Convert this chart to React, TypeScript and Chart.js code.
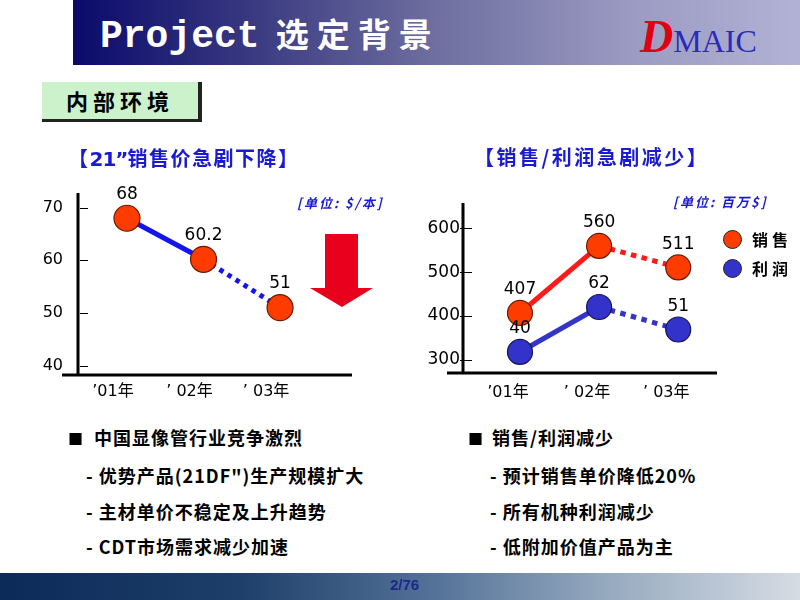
import React, { useEffect, useRef } from "react";
import { Chart, registerables } from "chart.js";
Chart.register(...registerables);

// ---------- data ----------
const years = ["’01年", "’ 02年", "’ 03年"];
const priceValues = [68, 60.2, 51];
const priceTicks = [40, 50, 60, 70];
const salesValues = [407, 560, 511];
const profitValues = [40, 62, 51];
const salesTicks = [300, 400, 500, 600];
const seriesNames = ["销售", "利润"];
const seriesColors = ["#ff3c00", "#3333cc"];

const NUM_FONT = "'DejaVu Sans', 'Noto Sans CJK SC', sans-serif";
const CJK_FONT = "'Noto Sans CJK SC', 'DejaVu Sans', sans-serif";

// ---------- plugins ----------
const slideAxes = {
  id: "slideAxes",
  beforeDatasetsDraw(chart: any, _a: any, opts: any) {
    const { ctx, chartArea } = chart;
    const ys = chart.scales.y;
    ctx.save();
    ctx.strokeStyle = "#000";
    ctx.lineWidth = 3;
    ctx.beginPath();
    ctx.moveTo(chartArea.left, chartArea.top);
    ctx.lineTo(chartArea.left, chartArea.bottom);
    ctx.moveTo(chartArea.left - opts.ext, chartArea.bottom);
    ctx.lineTo(chartArea.right, chartArea.bottom);
    ctx.stroke();
    ctx.lineWidth = 1.2;
    ctx.beginPath();
    ys.ticks.forEach((t: any) => {
      const y = Math.round(ys.getPixelForValue(t.value)) + 0.5;
      ctx.moveTo(chartArea.left + opts.tickFrom, y);
      ctx.lineTo(chartArea.left + opts.tickTo, y);
    });
    ctx.stroke();
    ctx.restore();
  },
};

const valueLabels = {
  id: "valueLabels",
  afterDatasetsDraw(chart: any, _a: any, opts: any) {
    const { ctx } = chart;
    ctx.save();
    ctx.font = `17px ${NUM_FONT}`;
    ctx.fillStyle = "#000";
    ctx.textAlign = "center";
    ctx.textBaseline = "middle";
    chart.data.datasets.forEach((ds: any, di: number) => {
      const meta = chart.getDatasetMeta(di);
      meta.data.forEach((el: any, i: number) => {
        ctx.fillText(String(ds.data[i].y), el.x, el.y - opts.offset);
      });
    });
    ctx.restore();
  },
};

const dotted = (dash: number[]) => ({
  borderDash: (c: any) => (c.p0DataIndex >= 1 ? dash : undefined),
});

function xScale(min: number, max: number, pad: number, labelOffset: number, h: number) {
  return {
    type: "linear",
    min,
    max,
    afterBuildTicks: (s: any) => {
      s.ticks = years.map((_, i) => ({ value: i }));
    },
    afterFit: (s: any) => {
      s.height = h;
    },
    grid: { display: false, drawTicks: false },
    border: { display: false },
    ticks: {
      callback: (v: any) => years[v],
      font: { size: 16, family: NUM_FONT },
      color: "#000",
      padding: pad,
      labelOffset,
      maxRotation: 0,
      autoSkip: false,
    },
  };
}

function yScale(min: number, max: number, tickList: number[], pad: number, size: number) {
  return {
    type: "linear",
    min,
    max,
    afterBuildTicks: (s: any) => {
      s.ticks = tickList.map((v) => ({ value: v }));
    },
    afterFit: (s: any) => {
      s.width = 40;
    },
    grid: { display: false, drawTicks: false },
    border: { display: false },
    ticks: { font: { size, family: NUM_FONT }, color: "#000", padding: pad },
  };
}

function ChartCanvas({ config, style }: { config: () => any; style: React.CSSProperties }) {
  const ref = useRef<HTMLCanvasElement | null>(null);
  useEffect(() => {
    if (!ref.current) return;
    const chart = new Chart(ref.current, config());
    return () => chart.destroy();
  }, []);
  return <canvas ref={ref} width={400} height={260} style={{ position: "absolute", width: 400, height: 260, ...style }} />;
}

const priceConfig = () => ({
  type: "line",
  data: {
    datasets: [
      {
        label: "售价",
        data: priceValues.map((v, i) => ({ x: i, y: v })),
        borderColor: "#1414ee",
        borderWidth: 5,
        pointRadius: 13,
        pointHoverRadius: 13,
        pointBackgroundColor: "#ff3c00",
        pointBorderColor: "#6a1a00",
        pointBorderWidth: 1.2,
        segment: dotted([4.5, 5]),
        clip: false,
      },
    ],
  },
  options: {
    animation: false,
    responsive: false,
    maintainAspectRatio: false,
    layout: { padding: { left: 38, right: 48, top: 43, bottom: 0 } },
    scales: {
      x: xScale(-0.64, 2.94, 7, -14, 35),
      y: yScale(38.2, 72.8, priceTicks, 15, 16),
    },
    plugins: {
      legend: { display: false },
      tooltip: { enabled: false },
      slideAxes: { ext: 16, tickFrom: 2, tickTo: 10 },
      valueLabels: { offset: 24 },
    },
  },
  plugins: [slideAxes, valueLabels],
});

const salesConfig = () => ({
  type: "line",
  data: {
    datasets: [
      {
        label: seriesNames[0],
        data: salesValues.map((v, i) => ({ x: i, y: v })),
        borderColor: "#ff1a1a",
        borderWidth: 5,
        pointRadius: 12.5,
        pointHoverRadius: 12.5,
        pointBackgroundColor: seriesColors[0],
        pointBorderColor: "#6a1a00",
        pointBorderWidth: 1.2,
        segment: dotted([5.5, 5.5]),
        yAxisID: "y",
        clip: false,
      },
      {
        label: seriesNames[1],
        data: profitValues.map((v, i) => ({ x: i, y: v })),
        borderColor: "#3434c8",
        borderWidth: 5,
        pointRadius: 12.5,
        pointHoverRadius: 12.5,
        pointBackgroundColor: seriesColors[1],
        pointBorderColor: "#141450",
        pointBorderWidth: 1.2,
        segment: dotted([5.5, 5.5]),
        yAxisID: "y2",
        clip: false,
      },
    ],
  },
  options: {
    animation: false,
    responsive: false,
    maintainAspectRatio: false,
    layout: { padding: { left: 23, right: 83, top: 53, bottom: 0 } },
    scales: {
      x: xScale(-0.72, 2.49, 10, -12, 37),
      y: yScale(270, 658, salesTicks, 3, 17),
      y2: { type: "linear", display: false, min: 29.7, max: 112.9 },
    },
    plugins: {
      legend: { display: false },
      tooltip: { enabled: false },
      slideAxes: { ext: 16, tickFrom: -3, tickTo: 9 },
      valueLabels: { offset: 23 },
    },
  },
  plugins: [slideAxes, valueLabels],
});

const abs = (s: React.CSSProperties): React.CSSProperties => ({ position: "absolute", whiteSpace: "nowrap", ...s });

const bulletStyle = (left: number, cy: number): React.CSSProperties =>
  abs({ left, top: cy - 13, height: 26, lineHeight: "26px", fontSize: 18, fontWeight: 700, letterSpacing: 1, color: "#000" });

export default function App() {
  return (
    <div style={{ position: "fixed", left: 0, top: 0, width: 800, height: 600, background: "#fff", overflow: "hidden", fontFamily: CJK_FONT }}>
      {/* header */}
      <div style={abs({ left: 73, top: 0, width: 727, height: 65, background: "linear-gradient(90deg, #0a0a6c 0%, #34347e 22%, #6f6fa0 50%, #9c9cc4 78%, #b2b2d6 100%)" })} />
      <div style={abs({ left: 100, top: 8, height: 50, lineHeight: "50px", color: "#fff" })}>
        <span style={{ fontFamily: "'Liberation Mono', monospace", fontWeight: 700, fontSize: 38 }}>Project</span>
        <span style={{ fontFamily: CJK_FONT, fontWeight: 700, fontSize: 33, letterSpacing: 8, marginLeft: 16 }}>选定背景</span>
      </div>
      <div style={abs({ left: 640, top: 12, height: 50, lineHeight: "50px", fontFamily: "'Liberation Serif', serif" })}>
        <span style={{ color: "#e00010", fontStyle: "italic", fontWeight: 700, fontSize: 46 }}>D</span>
        <span style={{ color: "#2b2bb8", fontSize: 32 }}>MAIC</span>
      </div>

      {/* section box */}
      <div style={abs({ left: 42, top: 82, width: 156, height: 37, background: "#ccf2cc", borderRight: "4px solid #222", borderBottom: "3px solid #222", boxSizing: "content-box" })} />
      <div style={abs({ left: 42, top: 82, width: 156, height: 37, lineHeight: "37px", textAlign: "center", fontSize: 22, fontWeight: 700, letterSpacing: 5, color: "#000" })}>内部环境</div>

      {/* charts */}
      <ChartCanvas config={priceConfig} style={{ left: 0, top: 150 }} />
      <ChartCanvas config={salesConfig} style={{ left: 400, top: 150 }} />

      {/* chart titles */}
      <div style={abs({ left: 68, top: 145, height: 26, lineHeight: "26px", fontSize: 20, fontWeight: 700, letterSpacing: 1.5, color: "#1a1ad2" })}>
        【<span style={{ fontFamily: NUM_FONT, letterSpacing: -1 }}>21”</span>销售价急剧下降】
      </div>
      <div style={abs({ left: 474, top: 144, height: 26, lineHeight: "26px", fontSize: 20, fontWeight: 700, letterSpacing: 2.5, color: "#1a1ad2" })}>
        【销售/利润急剧减少】
      </div>
      <div style={abs({ left: 297, top: 194, height: 18, lineHeight: "18px", fontSize: 13, fontWeight: 700, fontStyle: "italic", letterSpacing: 2, color: "#1a1ad2" })}>[单位: $/本]</div>
      <div style={abs({ left: 673, top: 193, height: 18, lineHeight: "18px", fontSize: 13, fontWeight: 700, fontStyle: "italic", letterSpacing: 2, color: "#1a1ad2" })}>[单位: 百万$]</div>

      {/* red arrow */}
      <svg style={abs({ left: 308, top: 232, width: 68, height: 78 })} width={68} height={78}>
        <polygon points="17,2 50,2 50,56 65,56 34,75 2,56 17,56" fill="#e8001c" />
      </svg>

      {/* legend */}
      {seriesNames.map((n, i) => (
        <React.Fragment key={n}>
          <div style={abs({ left: 723, top: 230 + i * 29, width: 17, height: 17, borderRadius: "50%", background: seriesColors[i], border: "1px solid #222" })} />
          <div style={abs({ left: 752, top: 226 + i * 29, height: 26, lineHeight: "26px", fontSize: 16, fontWeight: 700, letterSpacing: 4, color: "#000" })}>{n}</div>
        </React.Fragment>
      ))}

      {/* bullets left */}
      <div style={bulletStyle(68, 437)}><span style={{ fontSize: 15 }}>■</span><span style={{ marginLeft: 10 }}>中国显像管行业竞争激烈</span></div>
      <div style={bulletStyle(86, 475)}>- 优势产品(21DF")生产规模扩大</div>
      <div style={bulletStyle(86, 511)}>- 主材单价不稳定及上升趋势</div>
      <div style={bulletStyle(86, 546)}>- CDT市场需求减少加速</div>

      {/* bullets right */}
      <div style={bulletStyle(468, 437)}><span style={{ fontSize: 15 }}>■</span><span style={{ marginLeft: 8 }}>销售/利润减少</span></div>
      <div style={bulletStyle(490, 475)}>- 预计销售单价降低20%</div>
      <div style={bulletStyle(490, 511)}>- 所有机种利润减少</div>
      <div style={bulletStyle(490, 546)}>- 低附加价值产品为主</div>

      {/* footer */}
      <div style={abs({ left: 0, top: 573, width: 800, height: 27, background: "linear-gradient(90deg, #0c2a58 0%, #1e3f6a 30%, #56749a 55%, #93a7bd 75%, #d6dce4 100%)" })} />
      <div style={abs({ left: 390, top: 576, height: 18, lineHeight: "18px", fontSize: 15, fontWeight: 700, fontFamily: "'Liberation Sans', sans-serif", color: "#1a2a8a" })}>2/76</div>
    </div>
  );
}
